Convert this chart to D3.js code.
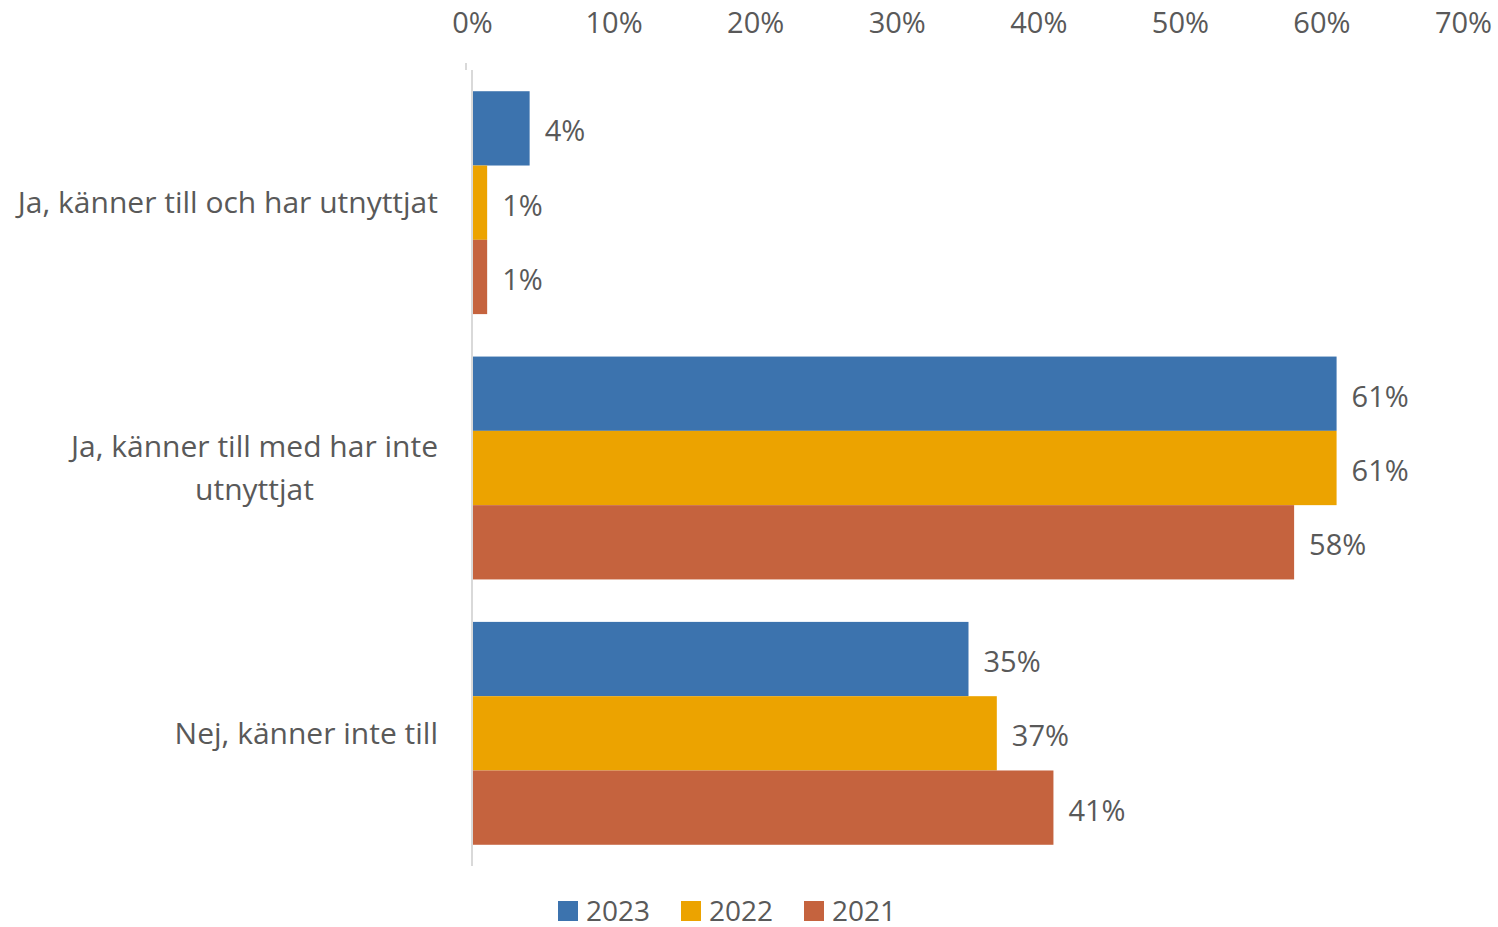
<!DOCTYPE html>
<html>
<head>
<meta charset="utf-8">
<script src="https://cdn.jsdelivr.net/npm/d3@7"></script>
<style>
  body { margin: 0; background: #fff; }
  text { font-family: "Open Sans", "Noto Sans", sans-serif; fill: #595959; }
</style>
</head>
<body>
<div id="chart"></div>
<script>
const width = 1498;
const height = 927;

// Chart data
const categories = ["Ja, känner till och har utnyttjat", "Ja, känner till med har inte utnyttjat", "Nej, känner inte till"];
const categoryLines = [["Ja, känner till och har utnyttjat"], ["Ja, känner till med har inte", "utnyttjat"], ["Nej, känner inte till"]];
const years = ["2023", "2022", "2021"];
const values2023 = [4, 61, 35];
const values2022 = [1, 61, 37];
const values2021 = [1, 58, 41];
const tickValues = [0, 10, 20, 30, 40, 50, 60, 70];
const colors = ["#3c73ae", "#eca300", "#c5633e"];

const seriesValues = [values2023, values2022, values2021];

const svg = d3.select("#chart")
    .append("svg")
    .attr("width", width)
    .attr("height", height);

// x scale: 0% at 472, 70% at 1463
const x = d3.scaleLinear().domain([0, 70]).range([472, 1463]);
const y = d3.scaleBand().domain(categories).range([70, 866]).paddingInner(0.16).paddingOuter(0.08);
const ySub = d3.scaleBand().domain(years).range([0, y.bandwidth()]);

// Top axis labels
svg.append("g")
    .attr("transform", "translate(0,36)")
    .call(d3.axisTop(x).tickValues(tickValues).tickFormat(d => d + "%").tickSize(0))
    .call(g => g.select(".domain").remove())
    .selectAll("text")
    .attr("dy", 0)
    .style("font-size", "29px")
    .style("fill", "#595959")
    .style("font-family", "'Open Sans', 'Noto Sans', sans-serif");

// Bars
const groups = svg.selectAll("g.cat")
    .data(categories)
    .enter()
    .append("g")
    .attr("class", "cat")
    .attr("transform", d => `translate(0,${y(d)})`);

groups.each(function(cat, ci) {
    const g = d3.select(this);
    years.forEach((yr, si) => {
        const v = seriesValues[si][ci];
        g.append("rect")
            .attr("x", x(0) + 1)
            .attr("y", ySub(yr))
            .attr("width", x(v) - x(0))
            .attr("height", ySub.bandwidth())
            .attr("fill", colors[si]);
        g.append("text")
            .attr("x", x(v) + 16)
            .attr("y", ySub(yr) + ySub.bandwidth() / 2)
            .attr("dy", "0.45em")
            .style("font-size", "29px")
            .text(v + "%");
    });
});

// Vertical axis line
svg.append("line")
    .attr("x1", x(0)).attr("x2", x(0))
    .attr("y1", 70).attr("y2", 866)
    .attr("stroke", "#d9d9d9")
    .attr("stroke-width", 2);
svg.append("line")
    .attr("x1", x(0) - 6).attr("x2", x(0) - 6)
    .attr("y1", 63).attr("y2", 70)
    .attr("stroke", "#d9d9d9")
    .attr("stroke-width", 2);

// Category labels (multi-line blocks are centred, right edge at 438)
categories.forEach((cat, i) => {
    const lines = categoryLines[i];
    const cy = y(cat) + y.bandwidth() / 2;
    const lh = 43;
    const t = svg.append("text")
        .attr("text-anchor", "middle")
        .style("font-size", "30px");
    const spans = lines.map((ln, j) => t.append("tspan")
        .attr("y", cy + (j - (lines.length - 1) / 2) * lh)
        .attr("dy", "0.35em")
        .text(ln));
    const maxW = d3.max(spans, s => s.node().getComputedTextLength());
    spans.forEach(s => s.attr("x", 438 - maxW / 2));
});

// Legend
const legendItems = [{label: "2023", x: 558}, {label: "2022", x: 681}, {label: "2021", x: 804}];
const legend = svg.selectAll("g.legend")
    .data(legendItems)
    .enter()
    .append("g")
    .attr("class", "legend")
    .attr("transform", d => `translate(${d.x},901)`);
legend.append("rect")
    .attr("width", 20).attr("height", 20)
    .attr("fill", (d, i) => colors[i]);
legend.append("text")
    .attr("x", 28)
    .attr("y", 10)
    .attr("dy", "0.35em")
    .style("font-size", "28px")
    .text(d => d.label);
</script>
</body>
</html>
